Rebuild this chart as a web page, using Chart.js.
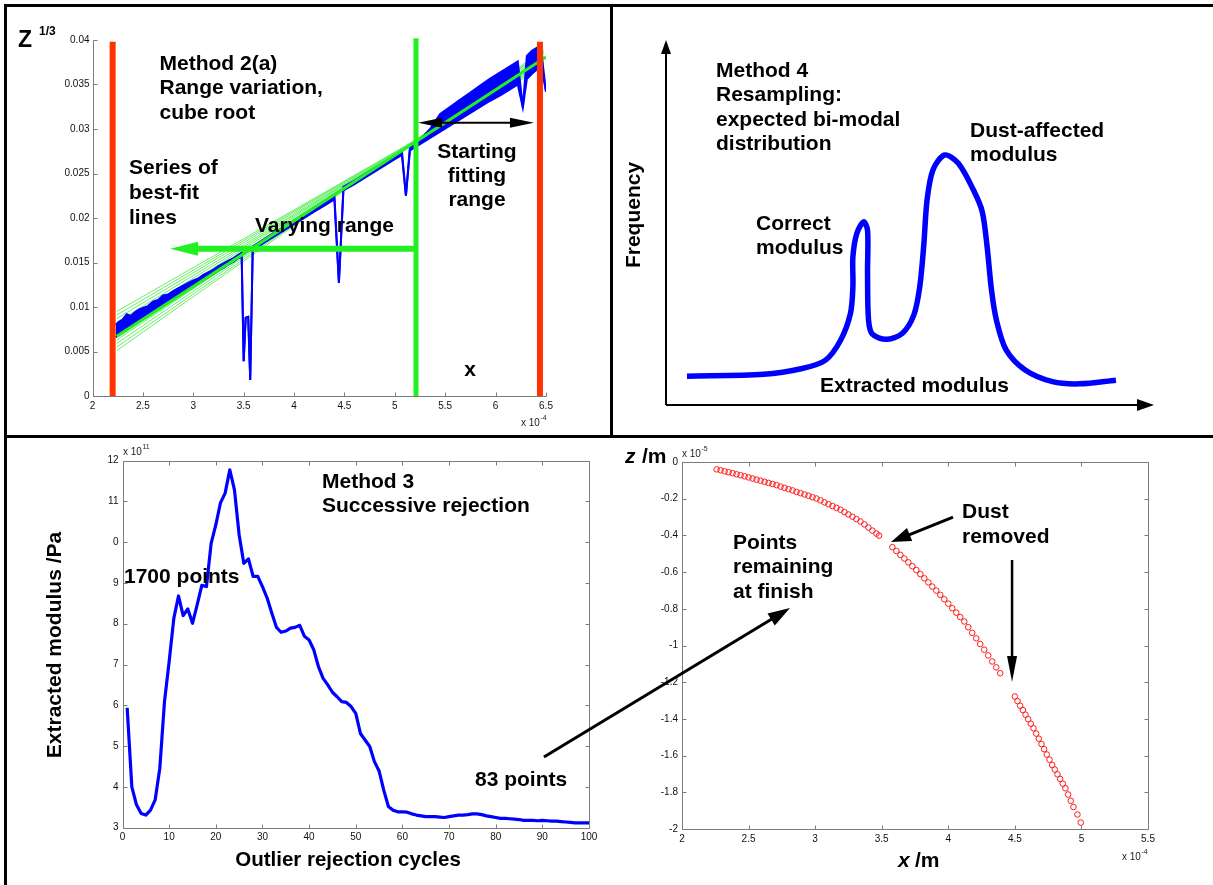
<!DOCTYPE html>
<html>
<head>
<meta charset="utf-8">
<script src="https://cdn.jsdelivr.net/npm/chart.js@4.4.1/dist/chart.umd.min.js"></script>
<style>
  html, body { margin: 0; padding: 0; background: #fff; }
  #fig { position: relative; width: 1213px; height: 885px; overflow: hidden; background: #fff; }
  #fig canvas { position: absolute; left: 0; top: 0; }
  .rule { position: absolute; background: #000; z-index: 10; }
</style>
</head>
<body>
<div id="fig">
  <canvas id="cTL" width="1213" height="885"></canvas>
  <canvas id="cTR" width="1213" height="885"></canvas>
  <canvas id="cBL" width="1213" height="885"></canvas>
  <canvas id="cBR" width="1213" height="885"></canvas>
  <div class="rule" style="left:4px;top:4px;width:1209px;height:3px"></div>
  <div class="rule" style="left:4px;top:4px;width:3px;height:881px"></div>
  <div class="rule" style="left:4px;top:435px;width:1209px;height:3px"></div>
  <div class="rule" style="left:610px;top:4px;width:3px;height:433px"></div>
</div>
<script>
// ---------------- Method 2(a): cube root of z against x ----------------
const tlTickX = [2, 2.5, 3, 3.5, 4, 4.5, 5, 5.5, 6, 6.5];
const tlTickY = [0, 0.005, 0.01, 0.015, 0.02, 0.025, 0.03, 0.035, 0.04];
const tlTickYLabels = ['0', '0.005', '0.01', '0.015', '0.02', '0.025', '0.03', '0.035', '0.04'];

// measured profile: lower and upper edge of the noisy trace (x in 1e-4 m)
const tlX = [2.23, 2.26, 2.30, 2.34, 2.38, 2.42, 2.46, 2.50, 2.55, 2.60, 2.65, 2.70, 2.75, 2.80, 2.85, 2.90, 2.95, 3.00,
  3.05, 3.10, 3.15, 3.20, 3.25, 3.30, 3.35, 3.40, 3.45, 3.48, 3.50, 3.52, 3.545, 3.565, 3.59, 3.65, 3.70, 3.80, 3.90,
  4.00, 4.10, 4.20, 4.30, 4.40, 4.445, 4.49, 4.60, 4.70, 4.80, 4.90, 5.00, 5.07, 5.11, 5.15, 5.25, 5.35, 5.45, 5.55,
  5.65, 5.75, 5.85, 5.95, 6.05, 6.15, 6.22, 6.27, 6.31, 6.36, 6.42, 6.45, 6.50];
const tlLower = [0.0066, 0.0069, 0.0072, 0.0075, 0.0078, 0.0081, 0.0084, 0.0087, 0.0091, 0.0095, 0.0098, 0.0102, 0.0106,
  0.0109, 0.0113, 0.0116, 0.0120, 0.0123, 0.0127, 0.0130, 0.0134, 0.0137, 0.0141, 0.0144, 0.0148, 0.0151, 0.0155, 0.0157,
  0.0039, 0.0088, 0.0089, 0.0018, 0.0164, 0.0168, 0.0172, 0.0179, 0.0186, 0.0193, 0.0200, 0.0207, 0.0214, 0.0221, 0.0127,
  0.0231, 0.0238, 0.0245, 0.0252, 0.0259, 0.0266, 0.0271, 0.0225, 0.0276, 0.0283, 0.0290, 0.0297, 0.0304, 0.0311, 0.0318,
  0.0325, 0.0332, 0.0338, 0.0345, 0.0350, 0.0324, 0.0356, 0.0362, 0.0368, 0.0372, 0.0342];
const tlUpper = [0.0080, 0.0083, 0.0086, 0.0092, 0.0090, 0.0094, 0.0097, 0.0099, 0.0101, 0.0106, 0.0108, 0.0113, 0.0114,
  0.0118, 0.0121, 0.0124, 0.0127, 0.0130, 0.0132, 0.0136, 0.0139, 0.0142, 0.0146, 0.0149, 0.0152, 0.0155, 0.0159, 0.0161,
  0.0039, 0.0088, 0.0089, 0.0018, 0.0168, 0.0172, 0.0176, 0.0183, 0.0190, 0.0197, 0.0204, 0.0211, 0.0218, 0.0226, 0.0127,
  0.0235, 0.0242, 0.0249, 0.0256, 0.0263, 0.0270, 0.0275, 0.0225, 0.0280, 0.0288, 0.0300, 0.0317, 0.0325, 0.0333, 0.0341,
  0.0349, 0.0357, 0.0364, 0.0371, 0.0376, 0.0324, 0.0382, 0.0388, 0.0392, 0.0390, 0.0342];

// series of best-fit lines, given by their end values
const fitX = [2.24, 6.48];
const fitStartY = [0.0095, 0.0091, 0.0087, 0.0083, 0.0079, 0.0075, 0.0071, 0.0067, 0.0063, 0.0059, 0.0055, 0.0051];
const fitEndY = [0.0370, 0.0372, 0.0374, 0.0375, 0.0377, 0.0379, 0.0380, 0.0382, 0.0384, 0.0386, 0.0387, 0.0389];
const mainFitX = [2.24, 6.50];
const mainFitY = [0.0067, 0.0381];

// range markers
const outerRangeX = [2.20, 6.44];
const outerRangeTop = 0.0398;
const startRangeX = 5.21;
const startRangeTop = 0.0402;
const varyArrow = { x: [5.21, 2.77], y: 0.01655 };
const fitRangeArrow = { x: [5.23, 6.38], y: 0.0307 };

// ---------------- Method 4: expected bi-modal distribution (schematic) ----------------
const trModulus = [4.3, 20.0, 27.9, 32.7, 35.8, 37.8, 38.3, 38.3, 39.1, 40.5, 41.3, 41.3, 41.5, 42.3, 45.1, 48.4, 50.8,
  52.0, 52.8, 53.5, 54.7, 57.1, 59.9, 63.0, 64.8, 65.8, 66.7, 67.7, 69.7, 73.6, 79.2, 84.7, 92.2];
const trFrequency = [7.9, 8.4, 10.0, 12.3, 17.8, 25.1, 32.4, 40.6, 47.0, 50.2, 47.9, 36.1, 23.3, 19.4, 18.0, 19.6, 24.7,
  32.4, 43.4, 56.2, 64.4, 68.5, 66.2, 58.9, 53.0, 43.4, 31.5, 23.3, 15.1, 9.6, 6.4, 5.8, 6.8];

// ---------------- Method 3: successive rejection ----------------
const blCycles = [1, 2, 3, 4, 5, 6, 7, 8, 9, 10, 11, 12, 13, 14, 15, 16, 17, 18, 19, 20, 21, 22, 23, 24, 25, 26, 27, 28,
  29, 30, 31, 32, 33, 34, 35, 36, 37, 38, 39, 40, 41, 42, 43, 44, 45, 46, 47, 48, 49, 50, 51, 52, 53, 54, 55, 56, 57, 58,
  59, 60, 61, 62, 63, 64, 65, 66, 67, 68, 69, 70, 71, 72, 73, 74, 75, 76, 77, 78, 79, 80, 81, 82, 83, 84, 85, 86, 87, 88,
  89, 90, 91, 92, 93, 94, 95, 96, 97, 98, 99, 100];
const blModulus = [5.94, 4.00, 3.56, 3.35, 3.31, 3.43, 3.68, 4.46, 6.09, 7.07, 8.13, 8.68, 8.20, 8.36, 8.01, 8.46, 8.94,
  8.91, 9.97, 10.42, 10.96, 11.20, 11.77, 11.28, 10.18, 9.48, 9.59, 9.16, 9.16, 8.91, 8.63, 8.26, 7.91, 7.79, 7.82, 7.89,
  7.91, 7.96, 7.69, 7.60, 7.36, 6.95, 6.66, 6.50, 6.32, 6.21, 6.09, 6.07, 5.97, 5.80, 5.31, 5.15, 4.99, 4.62, 4.39, 3.92,
  3.52, 3.43, 3.39, 3.39, 3.38, 3.34, 3.31, 3.29, 3.27, 3.27, 3.27, 3.26, 3.25, 3.27, 3.29, 3.31, 3.31, 3.32, 3.34, 3.34,
  3.32, 3.29, 3.27, 3.25, 3.23, 3.23, 3.22, 3.21, 3.20, 3.18, 3.18, 3.18, 3.17, 3.18, 3.17, 3.16, 3.16, 3.15, 3.14, 3.13,
  3.12, 3.12, 3.12, 3.12];
const blTickX = [0, 10, 20, 30, 40, 50, 60, 70, 80, 90, 100];
const blTickY = [3, 4, 5, 6, 7, 8, 9, 10, 11, 12];
const blTickYLabels = ['3', '4', '5', '6', '7', '8', '9', '0', '11', '12'];

// ---------------- surface points remaining at finish ----------------
const brX = [2.26, 2.29, 2.32, 2.35, 2.38, 2.41, 2.44, 2.47, 2.50, 2.53, 2.56, 2.59, 2.62, 2.65, 2.68, 2.71, 2.74, 2.77,
  2.80, 2.83, 2.86, 2.89, 2.92, 2.95, 2.98, 3.01, 3.04, 3.07, 3.10, 3.13, 3.16, 3.19, 3.22, 3.25, 3.28, 3.31, 3.34, 3.37,
  3.40, 3.43, 3.46, 3.48,
  3.58, 3.61, 3.64, 3.67, 3.70, 3.73, 3.76, 3.79, 3.82, 3.85, 3.88, 3.91, 3.94, 3.97, 4.00, 4.03, 4.06, 4.09, 4.12, 4.15,
  4.18, 4.21, 4.24, 4.27, 4.30, 4.33, 4.36, 4.39,
  4.50, 4.52, 4.54, 4.56, 4.58, 4.60, 4.62, 4.64, 4.66, 4.68, 4.70, 4.72, 4.74, 4.76, 4.78, 4.80, 4.82, 4.84, 4.86, 4.88,
  4.90, 4.92, 4.94, 4.97, 4.995];
const brZ = [-0.040, -0.045, -0.051, -0.056, -0.061, -0.067, -0.072, -0.078, -0.084, -0.090, -0.096, -0.102, -0.108,
  -0.114, -0.120, -0.126, -0.134, -0.141, -0.148, -0.155, -0.163, -0.170, -0.177, -0.184, -0.192, -0.199, -0.209, -0.220,
  -0.230, -0.240, -0.250, -0.260, -0.273, -0.286, -0.298, -0.311, -0.324, -0.340, -0.357, -0.374, -0.390, -0.401,
  -0.464, -0.485, -0.506, -0.526, -0.547, -0.568, -0.589, -0.611, -0.634, -0.656, -0.679, -0.701, -0.724, -0.748, -0.772,
  -0.797, -0.821, -0.845, -0.869, -0.900, -0.931, -0.961, -0.992, -1.023, -1.054, -1.087, -1.119, -1.151,
  -1.278, -1.303, -1.328, -1.352, -1.377, -1.402, -1.426, -1.451, -1.480, -1.508, -1.537, -1.565, -1.594, -1.622, -1.651,
  -1.676, -1.702, -1.727, -1.753, -1.778, -1.812, -1.846, -1.880, -1.921, -1.965];
const brTickX = [2, 2.5, 3, 3.5, 4, 4.5, 5, 5.5];
const brTickY = [0, -0.2, -0.4, -0.6, -0.8, -1, -1.2, -1.4, -1.6, -1.8, -2];
const brTickYLabels = ['0', '-0.2', '-0.4', '-0.6', '-0.8', '-1', '-1.2', '-1.4', '-1.6', '-1.8', '-2'];
const dustArrowA = { from: [4.036, -0.300], to: [3.570, -0.436] };
const dustArrowB = { from: [4.479, -0.534], to: [4.479, -1.199] };
const finishArrow = { from: [0.963, -1.608], to: [2.811, -0.796] };

// ---------------- drawing helpers ----------------
const FONT = '"Liberation Sans", Arial, Helvetica, sans-serif';
const BLUE = '#0000ff';
const RED = '#ff3300';
const LIME = '#22f022';
const AXIS = '#7c7c7c';

function txt(ctx, s, x, y, o = {}) {
  ctx.save();
  ctx.font = (o.style || '') + ' ' + (o.weight || 'bold') + ' ' + (o.size || 21) + 'px ' + FONT;
  ctx.fillStyle = o.color || '#000';
  ctx.textAlign = o.align || 'left';
  ctx.textBaseline = 'middle';
  if (o.rot) { ctx.translate(x, y); ctx.rotate(o.rot); ctx.fillText(s, 0, 0); }
  else ctx.fillText(s, x, y);
  ctx.restore();
}
function lines(ctx, arr, x, y, step, o) {
  arr.forEach((s, i) => txt(ctx, s, x, y + i * step, o));
}
function sci(ctx, base, exp, x, y) {
  ctx.save();
  ctx.fillStyle = '#222';
  ctx.textBaseline = 'middle';
  ctx.textAlign = 'left';
  ctx.font = '10px ' + FONT;
  ctx.fillText(base, x, y);
  const w = ctx.measureText(base).width;
  ctx.font = '7px ' + FONT;
  ctx.fillText(exp, x + w + 0.5, y - 5);
  ctx.restore();
}
function head(ctx, x, y, ang, L, W) {
  const c = Math.cos(ang), s = Math.sin(ang);
  ctx.beginPath();
  ctx.moveTo(x, y);
  ctx.lineTo(x - L * c + W * s, y - L * s - W * c);
  ctx.lineTo(x - L * c - W * s, y - L * s + W * c);
  ctx.closePath();
  ctx.fill();
}
function arrow(ctx, x1, y1, x2, y2, o) {
  const ang = Math.atan2(y2 - y1, x2 - x1);
  const c = Math.cos(ang), s = Math.sin(ang);
  const back = o.head * 0.7;
  ctx.save();
  ctx.strokeStyle = ctx.fillStyle = o.color;
  ctx.lineWidth = o.width;
  ctx.beginPath();
  ctx.moveTo(o.both ? x1 + back * c : x1, o.both ? y1 + back * s : y1);
  ctx.lineTo(x2 - back * c, y2 - back * s);
  ctx.stroke();
  head(ctx, x2, y2, ang, o.head, o.half);
  if (o.both) head(ctx, x1, y1, ang + Math.PI, o.head, o.half);
  ctx.restore();
}
function px(chart, x, y) {
  return [chart.scales.x.getPixelForValue(x), chart.scales.y.getPixelForValue(y)];
}
// axis lines with short inward tick marks
function axesFrame(chart, box) {
  const { ctx, chartArea: a, scales: { x, y } } = chart;
  const L = Math.round(a.left) + 0.5, R = Math.round(a.right) + 0.5;
  const T = Math.round(a.top) + 0.5, B = Math.round(a.bottom) + 0.5;
  ctx.save();
  ctx.strokeStyle = AXIS;
  ctx.lineWidth = 1;
  ctx.beginPath();
  if (box) ctx.rect(L, T, R - L, B - T);
  else { ctx.moveTo(L, T); ctx.lineTo(L, B); ctx.lineTo(R, B); }
  x.ticks.forEach(t => {
    const p = Math.round(x.getPixelForValue(t.value)) + 0.5;
    ctx.moveTo(p, B); ctx.lineTo(p, B - 4);
    if (box) { ctx.moveTo(p, T); ctx.lineTo(p, T + 4); }
  });
  y.ticks.forEach(t => {
    const p = Math.round(y.getPixelForValue(t.value)) + 0.5;
    ctx.moveTo(L, p); ctx.lineTo(L + 4, p);
    if (box) { ctx.moveTo(R, p); ctx.lineTo(R - 4, p); }
  });
  ctx.stroke();
  ctx.restore();
}
function pts(xs, ys) { return xs.map((v, i) => ({ x: v, y: ys[i] })); }

// scale with fixed tick list and a fixed box size
function linScale(min, max, ticks, labels, fit, pad) {
  return {
    type: 'linear', min, max,
    grid: { display: false, drawTicks: false },
    border: { display: false },
    ticks: {
      autoSkip: false, maxRotation: 0, padding: pad, color: '#111',
      font: { size: 10, family: FONT },
      callback: (v) => {
        const i = ticks.indexOf(v);
        return labels ? labels[i] : String(v);
      }
    },
    afterBuildTicks: s => { s.ticks = ticks.map(v => ({ value: v })); },
    afterFit: fit
  };
}
const common = {
  responsive: false, animation: false, events: [],
  plugins: { legend: { display: false }, tooltip: { enabled: false } },
  elements: { point: { radius: 0 } }
};

// ---------------- chart: Method 2(a) ----------------
// thin fit lines sit beneath the trace; the main fit and the range markers sit above it
const tlDatasets = [
  { data: pts(tlX, tlLower), borderColor: BLUE, borderWidth: 2, order: 20 },
  { data: pts(tlX, tlUpper), borderColor: BLUE, borderWidth: 2, fill: '-1', backgroundColor: BLUE, order: 19 }
];
fitStartY.forEach((s, i) => {
  tlDatasets.push({ data: pts(fitX, [s, fitEndY[i]]), borderColor: '#66ee66', borderWidth: 1, order: 30 });
});
tlDatasets.push({ data: pts(mainFitX, mainFitY), borderColor: LIME, borderWidth: 3, order: 8 });
outerRangeX.forEach(v => {
  tlDatasets.push({ data: pts([v, v], [0, outerRangeTop]), borderColor: RED, borderWidth: 6, borderCapStyle: 'butt', clip: false, order: 3 });
});
tlDatasets.push({ data: pts([startRangeX, startRangeX], [0, startRangeTop]), borderColor: LIME, borderWidth: 5, clip: false, order: 2 });

new Chart(document.getElementById('cTL'), {
  type: 'line',
  data: { datasets: tlDatasets },
  options: {
    ...common,
    layout: { padding: { left: 0, top: 40, right: 667, bottom: 0 } },
    scales: {
      x: linScale(2, 6.5, tlTickX, null, s => { s.height = 489; }, 4),
      y: linScale(0, 0.04, tlTickY, tlTickYLabels, s => { s.width = 92.5; }, 3)
    }
  },
  plugins: [{
    id: 'tlDecor',
    afterDatasetsDraw(chart) {
      const ctx = chart.ctx;
      const a = px(chart, varyArrow.x[0], varyArrow.y), b = px(chart, varyArrow.x[1], varyArrow.y);
      arrow(ctx, a[0], a[1], b[0], b[1], { color: LIME, width: 6, head: 28, half: 7 });
      const c = px(chart, fitRangeArrow.x[0], fitRangeArrow.y), d = px(chart, fitRangeArrow.x[1], fitRangeArrow.y);
      arrow(ctx, c[0], c[1], d[0], d[1], { color: '#000', width: 2, head: 24, half: 5, both: true });
    },
    afterDraw(chart) {
      const ctx = chart.ctx;
      axesFrame(chart, false);
      lines(ctx, ['Method 2(a)', 'Range variation,', 'cube root'], 159.5, 64, 24.5);
      lines(ctx, ['Series of', 'best-fit', 'lines'], 129, 168, 25);
      txt(ctx, 'Varying range', 255, 226);
      lines(ctx, ['Starting', 'fitting', 'range'], 477, 152, 24, { align: 'center' });
      txt(ctx, 'x', 470, 370, { align: 'center' });
      txt(ctx, 'Z', 18, 41, { size: 23 });
      txt(ctx, '1/3', 39, 32, { size: 12 });
      sci(ctx, 'x 10', '-4', 521, 423);
    }
  }]
});

// ---------------- chart: Method 4 ----------------
new Chart(document.getElementById('cTR'), {
  type: 'line',
  data: {
    datasets: [{
      data: pts(trModulus, trFrequency), borderColor: BLUE, borderWidth: 5.5, tension: 0.3,
      borderCapStyle: 'butt', borderJoinStyle: 'round'
    }]
  },
  options: {
    ...common,
    layout: { padding: { left: 666, top: 40, right: 59, bottom: 480 } },
    scales: {
      x: { type: 'linear', min: 0, max: 100, display: false },
      y: { type: 'linear', min: 0, max: 100, display: false }
    }
  },
  plugins: [{
    id: 'trDecor',
    afterDraw(chart) {
      const { ctx, chartArea: a } = chart;
      arrow(ctx, a.left, a.bottom, a.left, a.top, { color: '#000', width: 2, head: 14, half: 5 });
      arrow(ctx, a.left, a.bottom, a.right, a.bottom, { color: '#000', width: 2, head: 17, half: 6 });
      lines(ctx, ['Method 4', 'Resampling:', 'expected bi-modal', 'distribution'], 716, 71, 24.5);
      lines(ctx, ['Dust-affected', 'modulus'], 970, 131, 24.5);
      lines(ctx, ['Correct', 'modulus'], 756, 224, 24.5);
      txt(ctx, 'Frequency', 634, 215, { align: 'center', rot: -Math.PI / 2 });
      txt(ctx, 'Extracted modulus', 820, 386);
    }
  }]
});

// ---------------- chart: Method 3 ----------------
new Chart(document.getElementById('cBL'), {
  type: 'line',
  data: {
    datasets: [{ data: pts(blCycles, blModulus), borderColor: BLUE, borderWidth: 3.2, borderJoinStyle: 'round' }]
  },
  options: {
    ...common,
    layout: { padding: { left: 0, top: 460.5, right: 624, bottom: 0 } },
    scales: {
      x: linScale(0, 100, blTickX, null, s => { s.height = 57.3; }, 4),
      y: linScale(3, 12, blTickY, blTickYLabels, s => { s.width = 122.5; }, 4)
    }
  },
  plugins: [{
    id: 'blDecor',
    afterDraw(chart) {
      const ctx = chart.ctx;
      axesFrame(chart, true);
      lines(ctx, ['Method 3', 'Successive rejection'], 322, 482, 24.5);
      txt(ctx, '1700 points', 124, 577);
      txt(ctx, '83 points', 475, 780);
      txt(ctx, 'Outlier rejection cycles', 348, 860, { align: 'center', size: 20.5 });
      txt(ctx, 'Extracted modulus /Pa', 55.5, 645, { align: 'center', rot: -Math.PI / 2 });
      sci(ctx, 'x 10', '11', 123, 452);
    }
  }]
});

// ---------------- chart: surface points ----------------
new Chart(document.getElementById('cBR'), {
  type: 'line',
  data: {
    datasets: [{
      data: pts(brX, brZ), showLine: false, pointRadius: 2.8, pointBorderWidth: 1,
      pointBorderColor: '#ff1a1a', pointBackgroundColor: 'rgba(255,255,255,0)'
    }]
  },
  options: {
    ...common,
    layout: { padding: { left: 0, top: 462, right: 65, bottom: 0 } },
    scales: {
      x: linScale(2, 5.5, brTickX, null, s => { s.height = 56; }, 4),
      y: linScale(-2, 0, brTickY, brTickYLabels, s => { s.width = 682; }, 4)
    }
  },
  plugins: [{
    id: 'brDecor',
    afterDraw(chart) {
      const ctx = chart.ctx;
      axesFrame(chart, true);
      const A = [dustArrowA, dustArrowB, finishArrow].map(r => [px(chart, r.from[0], r.from[1]), px(chart, r.to[0], r.to[1])]);
      arrow(ctx, A[0][0][0], A[0][0][1], A[0][1][0], A[0][1][1], { color: '#000', width: 3, head: 20, half: 7 });
      arrow(ctx, A[1][0][0], A[1][0][1], A[1][1][0], A[1][1][1], { color: '#000', width: 2.5, head: 26, half: 5 });
      arrow(ctx, A[2][0][0], A[2][0][1], A[2][1][0], A[2][1][1], { color: '#000', width: 3, head: 22, half: 7 });
      lines(ctx, ['Dust', 'removed'], 962, 512, 25);
      lines(ctx, ['Points', 'remaining', 'at finish'], 733, 543, 24.5);
      txt(ctx, 'z', 625, 457, { style: 'italic' });
      txt(ctx, '/m', 642, 457);
      txt(ctx, 'x', 898, 861, { style: 'italic' });
      txt(ctx, '/m', 915, 861);
      sci(ctx, 'x 10', '-5', 682, 454);
      sci(ctx, 'x 10', '-4', 1122, 857);
    }
  }]
});
</script>
</body>
</html>
